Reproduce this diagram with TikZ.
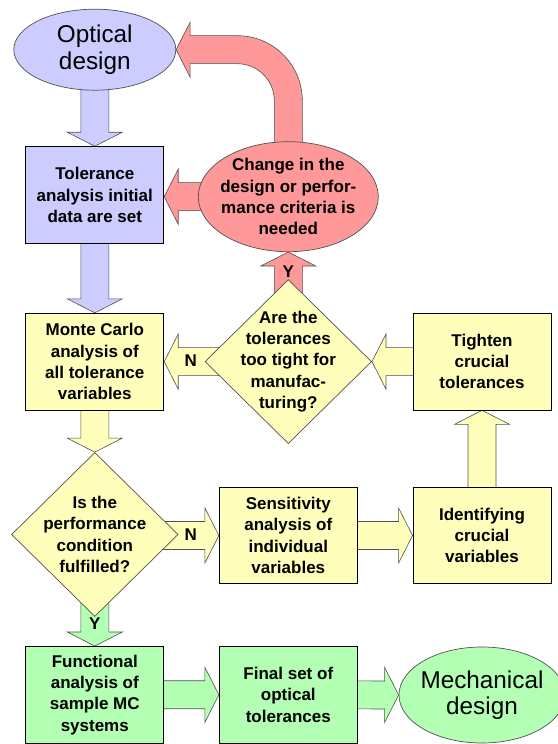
\documentclass[tikz,border=0pt]{standalone}
\usepackage{fontspec}
\setmainfont{Liberation Sans}
\usetikzlibrary{shapes.geometric,calc,backgrounds}
\definecolor{cblue}{HTML}{CCCCFF}
\definecolor{cyel}{HTML}{FFFFBB}
\definecolor{cpink}{HTML}{FF9999}
\definecolor{cgreen}{HTML}{B3FFB3}
\definecolor{cedge}{HTML}{505050}
% block arrow: #1 style, #2 start (hidden under source), #3 tip
\newcommand\barrow[3]{%
  \draw[#1] let \p1=(#2), \p2=(#3),
      \n1={atan2(\y2-\y1,\x2-\x1)}, \n2={veclen(\x2-\x1,\y2-\y1)} in
    [shift={(\p1)}, rotate=\n1]
    (0,14) -- (\n2-14,14) -- (\n2-14,27.5) -- (\n2,0) -- (\n2-14,-27.5)
    -- (\n2-14,-14) -- (0,-14) -- cycle;}
\begin{document}
\begin{tikzpicture}[x=1pt,y=1pt,
  box/.style={draw=black, line width=0.8pt, minimum width=138pt,
    minimum height=96.7pt, inner sep=0pt},
  ell/.style={ellipse, draw=cedge, line width=0.7pt, inner sep=0pt},
  dia/.style={diamond, draw=cedge, line width=0.7pt, inner sep=0pt,
    minimum width=166.6pt, minimum height=164pt, fill=cyel},
  txt/.style={font=\bfseries\fontsize{17}{21.3}\selectfont, align=center,
    inner sep=0pt},
  bigtxt/.style={font=\fontsize{24.3}{26.5}\selectfont, align=center,
    inner sep=0pt},
  arr/.style={draw=cedge, line width=0.6pt, line join=miter},
]
\useasboundingbox (0,0) rectangle (557,744);

% nodes
\node[ell, fill=cblue, minimum width=162pt, minimum height=81pt] (opt) at (94.8,694.3) {};
\node[bigtxt] (opt-t) at (opt) {Optical\\design};
\node[box, fill=cblue, txt] (tol) at (94.8,549) {Tolerance\\analysis initial\\data are set};
\node[box, fill=cyel, txt] (mc) at (94.8,382.4) {Monte Carlo\\analysis of\\all tolerance\\variables};
\node[dia] (d1) at (94.8,209.5) {};
\node[txt] (d1-t) at (d1) {Is the\\performance\\condition\\fulfilled?};
\node[box, fill=cgreen, txt] (func) at (94.8,49.2) {Functional\\analysis of\\sample MC\\systems};
\node[box, fill=cyel, txt] (sens) at (288.3,208.5) {Sensitivity\\analysis of\\individual\\variables};
\node[box, fill=cgreen, txt] (final) at (288.3,49.2) {Final set of\\optical\\tolerances};
\node[box, fill=cyel, txt] (ident) at (482,208.5) {Identifying\\crucial\\variables};
\node[box, fill=cyel, txt] (tight) at (482,382.4) {Tighten\\crucial\\tolerances};
\node[dia] (d2) at (288.3,382.4) {};
\node[txt] (d2-t) at (d2) {Are the\\tolerances\\too tight for\\manufac-\\turing?};
\node[ell, fill=cpink, minimum width=180pt, minimum height=110pt] (change) at (288.3,547.3) {};
\node[txt] (change-t) at (change) {Change in the\\design or perfor-\\mance criteria is\\needed};
\node[ell, fill=cgreen, minimum width=166pt, minimum height=96pt] (mech) at (482,49) {};
\node[bigtxt] (mech-t) at (mech) {Mechanical\\design};

% connectors
\begin{scope}[on background layer]
\barrow{arr,fill=cblue}{opt.center}{tol.north}
\barrow{arr,fill=cblue}{tol.center}{mc.north}
\barrow{arr,fill=cyel}{mc.center}{d1.north}
\barrow{arr,fill=cyel}{d1 |- sens}{sens.west}
\barrow{arr,fill=cyel}{sens.center}{ident.west}
\barrow{arr,fill=cyel}{ident.center}{tight.south}
\barrow{arr,fill=cyel}{tight.center}{d2.east}
\barrow{arr,fill=cyel}{d2.center}{mc.east}
\barrow{arr,fill=cpink}{d2.center}{change.south}
\barrow{arr,fill=cpink}{change.center}{tol.east |- change}
\draw[arr, fill=cpink] let \p1=(change.center), \p2=(opt.east) in
  (\x1-14,\y1) -- (\x1-14,\y2-51) arc[start angle=0,end angle=90,radius=37]
  -- (\x2+14,\y2-14) -- (\x2+14,\y2-27.5) -- (\x2,\y2) -- (\x2+14,\y2+27.5)
  -- (\x2+14,\y2+14) -- (\x1-51,\y2+14) arc[start angle=90,end angle=0,radius=65]
  -- (\x1+14,\y1) -- cycle;
\barrow{arr,fill=cgreen}{d1.center}{func.north}
\barrow{arr,fill=cgreen}{func.center}{final.west}
\barrow{arr,fill=cgreen}{final.center}{mech.west}
\end{scope}

% labels
\node[txt] (n1) at (190.7,209) {N};
\node[txt] (n2) at (190.7,383) {N};
\node[txt] (y1) at (288.3,472.3) {Y};
\node[txt] (y2) at (94.8,120) {Y};
\end{tikzpicture}
\end{document}
